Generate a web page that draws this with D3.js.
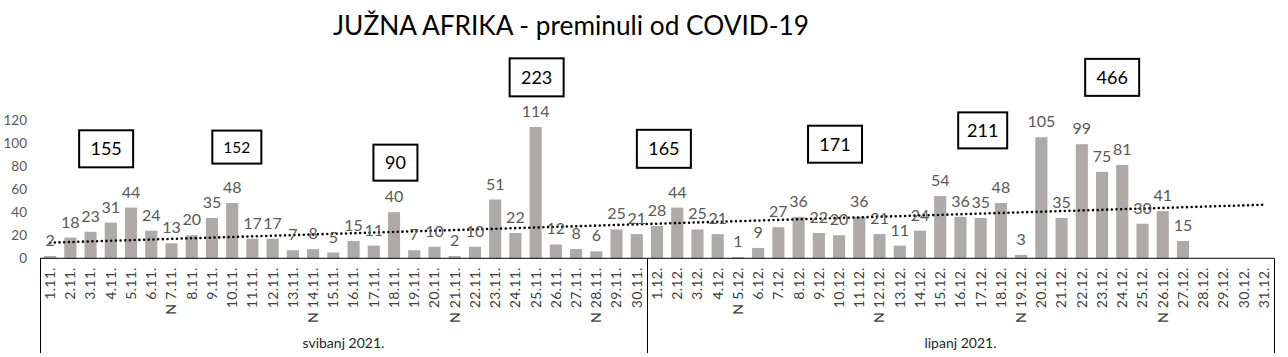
<!DOCTYPE html>
<html>
<head>
<meta charset="utf-8">
<script src="https://cdn.jsdelivr.net/npm/d3@7"></script>
<style>
  html, body { margin: 0; padding: 0; background: #fff; }
  svg { display: block; font-family: Lato, "Open Sans", sans-serif; }
</style>
</head>
<body>
<svg id="chart" width="1288" height="357"></svg>
<script>
// ---- data ----
const categories = [
  "1.11.","2.11.","3.11.","4.11.","5.11.","6.11.","N 7.11.","8.11.","9.11.","10.11.",
  "11.11.","12.11.","13.11.","N 14.11.","15.11.","16.11.","17.11.","18.11.","19.11.","20.11.",
  "N 21.11.","22.11.","23.11.","24.11.","25.11.","26.11.","27.11.","N 28.11.","29.11.","30.11.",
  "1.12.","2.12.","3.12.","4.12.","N 5.12.","6.12.","7.12.","8.12.","9.12.","10.12.",
  "11.12.","N 12.12.","13.12.","14.12.","15.12.","16.12.","17.12.","18.12.","N 19.12.","20.12.",
  "21.12.","22.12.","23.12.","24.12.","25.12.","N 26.12.","27.12.","28.12.","29.12.","30.12.","31.12."
];
const deaths = [
  2,18,23,31,44,24,13,20,35,48,
  17,17,7,8,5,15,11,40,7,10,
  2,10,51,22,114,12,8,6,25,21,
  28,44,25,21,1,9,27,36,22,20,
  36,21,11,24,54,36,35,48,3,105,
  35,99,75,81,30,41,15,null,null,null,null
];
const months = ["svibanj 2021.", "lipanj 2021."];
const monthDays = [30, 31];
const yTicks = [0, 20, 40, 60, 80, 100, 120];
const weeklyTotals = [155, 152, 90, 223, 165, 171, 211, 466];

// annotation box layout (category index position, y value position, size, font)
const boxLayout = [
  {i: 2.77, v: 95,  w: 54, h: 37, fs: 18},
  {i: 9.23, v: 96.5,w: 49, h: 33, fs: 15.5},
  {i: 17.07,v: 83,  w: 44, h: 36, fs: 18},
  {i: 24.05,v: 157, w: 54, h: 38, fs: 18},
  {i: 30.34,v: 95,  w: 54, h: 38, fs: 18},
  {i: 38.8, v: 99,  w: 54, h: 37, fs: 18},
  {i: 46.1, v: 111, w: 49, h: 36, fs: 18},
  {i: 52.5, v: 157, w: 54, h: 37, fs: 18}
];

// ---- layout ----
const svg = d3.select("#chart");
const left = 40, right = 1274, y0 = 258.3, yTop = 120;

const x = d3.scaleBand().domain(categories).range([left, right])
  .paddingInner(0.4).paddingOuter(0.2);
const y = d3.scaleLinear().domain([0, 120]).range([y0, yTop]);
const cx = i => x(categories[0]) + x.bandwidth() / 2 + i * x.step();

// title
svg.append("text")
  .attr("x", 571).attr("y", 35)
  .attr("text-anchor", "middle")
  .attr("font-size", 27)
  .attr("fill", "#000")
  .attr("textLength", 476).attr("lengthAdjust", "spacingAndGlyphs")
  .text("JUŽNA AFRIKA - preminuli od COVID-19");

// y axis
const yAxis = svg.append("g")
  .attr("transform", `translate(${left},0)`)
  .call(d3.axisLeft(y).tickValues(yTicks).tickSize(0).tickPadding(13));
yAxis.select(".domain").remove();
yAxis.selectAll("text").attr("font-size", 13.5).attr("fill", "#595959")
  .attr("font-family", "Lato, 'Open Sans', sans-serif");

// bars
const valid = deaths.map((v, i) => ({v, i, c: categories[i]})).filter(d => d.v !== null);
svg.append("g").selectAll("rect").data(valid).join("rect")
  .attr("x", d => x(d.c))
  .attr("width", x.bandwidth())
  .attr("y", d => y(d.v))
  .attr("height", d => y0 - y(d.v))
  .attr("fill", "#AEAAAA");

// trend line (linear regression over available points)
const mx = d3.mean(valid, d => d.i), my = d3.mean(valid, d => d.v);
const slope = d3.sum(valid, d => (d.i - mx) * (d.v - my)) / d3.sum(valid, d => (d.i - mx) ** 2);
const icpt = my - slope * mx;
const trendPts = [0, categories.length - 1].map(i => [cx(i), y(icpt + slope * i)]);
svg.append("path")
  .attr("d", d3.line()(trendPts))
  .attr("stroke", "#000").attr("stroke-width", 2.6)
  .attr("stroke-linecap", "round")
  .attr("stroke-dasharray", "0 4.7")
  .attr("fill", "none");

// value labels
svg.append("g").selectAll("text").data(valid).join("text")
  .attr("x", d => x(d.c) + x.bandwidth() / 2)
  .attr("y", d => y(d.v) - 10)
  .attr("text-anchor", "middle")
  .attr("font-size", 16)
  .attr("fill", "#595959")
  .text(d => d.v);

// x axis line + category labels
svg.append("line").attr("x1", left).attr("x2", right).attr("y1", y0).attr("y2", y0)
  .attr("stroke", "#000").attr("stroke-width", 1);
const xAxis = svg.append("g")
  .attr("transform", `translate(0,${y0})`)
  .call(d3.axisBottom(x).tickSize(0));
xAxis.select(".domain").remove();
xAxis.selectAll("text")
  .attr("transform", "rotate(-90)")
  .attr("x", -9).attr("y", 0).attr("dy", "0.35em")
  .attr("text-anchor", "end")
  .attr("font-size", 14).attr("fill", "#404040")
  .attr("letter-spacing", 0.3)
  .attr("font-family", "Lato, 'Open Sans', sans-serif");

// month group boxes
let start = 0;
const sep = [left];
months.forEach((m, k) => {
  const a = x(categories[start]) - x.step() * x.paddingInner() / 2;
  const end = start + monthDays[k] - 1;
  const b = x(categories[end]) + x.bandwidth() + x.step() * x.paddingInner() / 2;
  svg.append("text")
    .attr("x", (a + b) / 2).attr("y", 348)
    .attr("text-anchor", "middle")
    .attr("font-size", 14).attr("fill", "#262626")
    .text(m);
  sep.push(b);
  start = end + 1;
});
svg.append("g").selectAll("line").data([left, sep[1], right]).join("line")
  .attr("x1", d => Math.round(d) + 0.5).attr("x2", d => Math.round(d) + 0.5)
  .attr("y1", y0).attr("y2", 353)
  .attr("stroke", "#000").attr("stroke-width", 1);

// weekly total boxes
const boxes = svg.append("g").selectAll("g").data(weeklyTotals.map((t, k) => ({t, ...boxLayout[k]})))
  .join("g").attr("transform", d => `translate(${cx(d.i)},${y(d.v)})`);
boxes.append("rect")
  .attr("x", d => -d.w / 2).attr("y", d => -d.h / 2)
  .attr("width", d => d.w).attr("height", d => d.h)
  .attr("fill", "#fff").attr("stroke", "#000").attr("stroke-width", 2);
boxes.append("text")
  .attr("text-anchor", "middle").attr("dy", "0.36em")
  .attr("font-size", d => d.fs).attr("fill", "#000")
  .text(d => d.t);
</script>
</body>
</html>
